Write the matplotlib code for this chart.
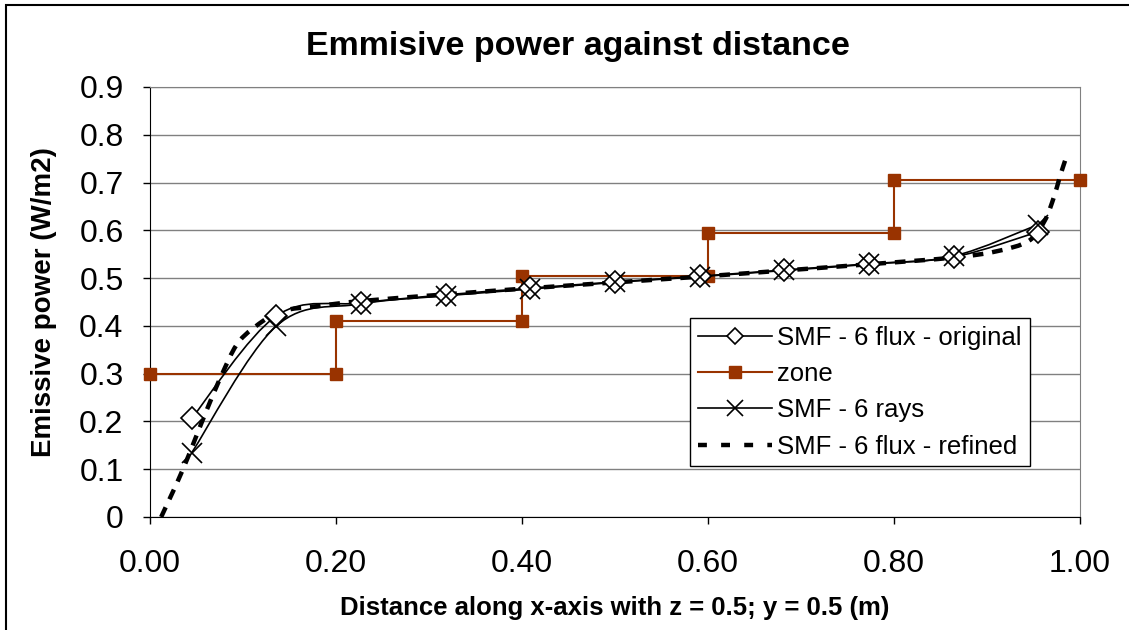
import numpy as np
import matplotlib
matplotlib.use('Agg')
import matplotlib.pyplot as plt
from matplotlib.path import Path
from matplotlib.patches import PathPatch, Rectangle
from matplotlib.lines import Line2D

plt.rcParams['font.family'] = ['Liberation Sans', 'DejaVu Sans']

# Data
cell_x = [0.045, 0.136, 0.227, 0.318, 0.409, 0.500, 0.591, 0.682, 0.773, 0.864, 0.955]
smf_original = [0.207, 0.421, 0.448, 0.465, 0.479, 0.492, 0.504, 0.517, 0.530, 0.544, 0.597]
smf_rays = [0.135, 0.400, 0.446, 0.463, 0.477, 0.491, 0.503, 0.516, 0.529, 0.546, 0.612]

refined_x = [0.012, 0.035, 0.061, 0.077, 0.093, 0.111, 0.140, 0.183, 0.227, 0.318, 0.409,
             0.500, 0.591, 0.682, 0.773, 0.864, 0.910, 0.945, 0.962, 0.972, 0.978, 0.985]
refined_y = [0.000, 0.098, 0.224, 0.297, 0.360, 0.395, 0.430, 0.442, 0.452, 0.466, 0.479,
             0.491, 0.503, 0.516, 0.529, 0.543, 0.556, 0.578, 0.620, 0.670, 0.710, 0.752]

zone_x = [0.0, 0.2, 0.2, 0.4, 0.4, 0.6, 0.6, 0.8, 0.8, 1.0]
zone_y = [0.300, 0.300, 0.410, 0.410, 0.505, 0.505, 0.595, 0.595, 0.705, 0.705]

x_ticks = [0.0, 0.2, 0.4, 0.6, 0.8, 1.0]
x_ticklabels = ['0.00', '0.20', '0.40', '0.60', '0.80', '1.00']
y_ticks = [0, 0.1, 0.2, 0.3, 0.4, 0.5, 0.6, 0.7, 0.8, 0.9]
y_ticklabels = ['0', '0.1', '0.2', '0.3', '0.4', '0.5', '0.6', '0.7', '0.8', '0.9']

ZONE = '#993300'


def smooth_path(x, y):
    # Excel style smoothed line: Catmull-Rom segments as cubic Beziers
    pts = np.column_stack([x, y]).astype(float)
    verts = [pts[0]]
    codes = [Path.MOVETO]
    n = len(pts)
    for i in range(n - 1):
        p0 = pts[i - 1] if i > 0 else pts[i]
        p1 = pts[i]
        p2 = pts[i + 1]
        p3 = pts[i + 2] if i + 2 < n else pts[i + 1]
        verts += [p1 + (p2 - p0) / 6, p2 - (p3 - p1) / 6, p2]
        codes += [Path.CURVE4] * 3
    return Path(verts, codes)


fig = plt.figure(figsize=(11.29, 6.30), dpi=100)
ax = fig.add_axes([150 / 1129, 113 / 630, 930 / 1129, 430 / 630])

# chart border
fig.patches.append(Rectangle((6 / 1129, -0.1), 1.2, 1.1 - 5 / 630, transform=fig.transFigure,
                             fill=False, edgecolor='black', lw=1.5))

ax.set_xlim(0, 1)
ax.set_ylim(0, 0.9)
ax.set_yticks(y_ticks)
ax.set_yticklabels(y_ticklabels)
ax.set_xticks(x_ticks)
ax.set_xticklabels(x_ticklabels)
ax.tick_params(direction='out', length=5, width=1, labelsize=23, color='black')
ax.tick_params(axis='y', pad=14)
ax.tick_params(axis='x', pad=18)
ax.grid(axis='y', color='#808080', lw=1)
ax.set_axisbelow(True)
for s in ['top', 'right']:
    ax.spines[s].set_color('#808080')
for s in ['left', 'bottom']:
    ax.spines[s].set_color('black')

# zone (step line)
ax.plot(zone_x, zone_y, color=ZONE, lw=1.5, marker='s', ms=8.5, mfc=ZONE, mec=ZONE, zorder=3,
        clip_on=False)

# smoothed curves
ax.add_patch(PathPatch(smooth_path(cell_x, smf_original), fill=False, edgecolor='black', lw=1.2, zorder=4))
ax.add_patch(PathPatch(smooth_path(cell_x, smf_rays), fill=False, edgecolor='black', lw=1.2, zorder=4))
ax.add_patch(PathPatch(smooth_path(refined_x, refined_y), fill=False, edgecolor='black', lw=3.2,
                       linestyle=(0, (2.4, 2.0)), capstyle='butt', zorder=5))

ax.plot(cell_x, smf_original, ls='none', marker='D', ms=11, mfc='white', mec='black', mew=1.2, zorder=6)
ax.plot(cell_x, smf_rays, ls='none', marker='x', ms=15, mec='black', mew=1.2, zorder=6)

handles = [
    Line2D([], [], color='black', lw=1.2, marker='D', ms=8, mfc='white', mec='black', mew=1.2),
    Line2D([], [], color=ZONE, lw=1.5, marker='s', ms=8.5, mfc=ZONE, mec=ZONE),
    Line2D([], [], color='black', lw=1.2, marker='x', ms=11, mew=1.2),
    Line2D([], [], color='black', lw=3.2, ls=(0, (2.0, 3.2))),
]
labels = ['SMF - 6 flux - original', 'zone', 'SMF - 6 rays', 'SMF - 6 flux - refined']
leg = ax.legend(handles, labels, loc='upper left', bbox_to_anchor=((690 - 150) / 930, (517 - 318) / 430),
                borderaxespad=0, fontsize=18.5, frameon=True, fancybox=False, framealpha=1,
                edgecolor='black', handlelength=2.9, handletextpad=0.2, labelspacing=0.48, borderpad=0.3)
leg.get_frame().set_linewidth(1)
leg.set_zorder(10)

fig.text(578 / 1129, 1 - 47 / 630, 'Emmisive power against distance', ha='center', va='center',
         fontsize=24.5, fontweight='bold')
fig.text(44 / 1129, 1 - 302 / 630, 'Emissive power (W/m2)', ha='center', va='center', rotation=90,
         fontsize=20, fontweight='bold')
fig.text(615 / 1129, 1 - 608 / 630, 'Distance along x-axis with z = 0.5; y = 0.5 (m)', ha='center',
         va='center', fontsize=18.5, fontweight='bold')

plt.savefig('out.png', dpi=100)
plt.close()
